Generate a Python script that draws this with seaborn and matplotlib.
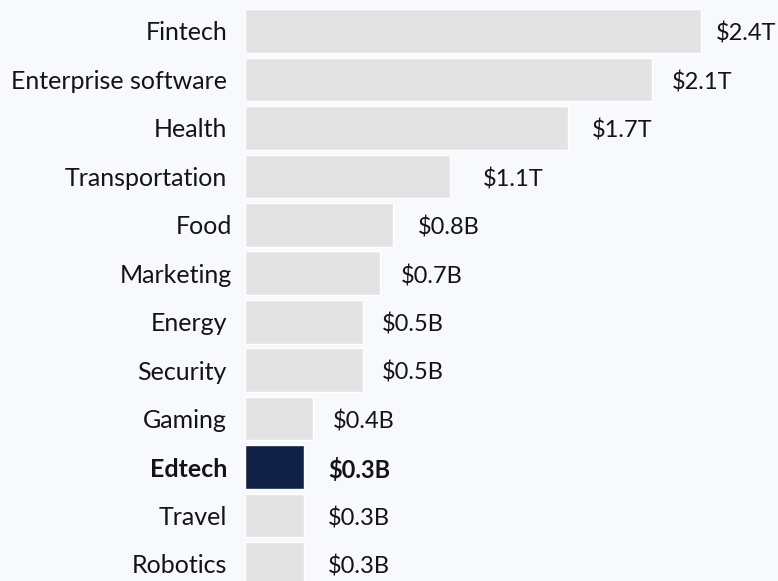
import matplotlib
matplotlib.use("Agg")
import matplotlib.pyplot as plt
import seaborn as sns
import pandas as pd

# Dades del gràfic
categories = ["Fintech", "Enterprise software", "Health", "Transportation", "Food",
              "Marketing", "Energy", "Security", "Gaming", "Edtech", "Travel", "Robotics"]
values = [2.4, 2.14, 1.70, 1.08, 0.78, 0.71, 0.62, 0.62, 0.36, 0.31, 0.31, 0.31]
value_labels = ["$2.4T", "$2.1T", "$1.7T", "$1.1T", "$0.8B", "$0.7B",
                "$0.5B", "$0.5B", "$0.4B", "$0.3B", "$0.3B", "$0.3B"]
highlight = "Edtech"

# Estil
bg = "#f8f9fd"
grey = "#e3e3e3"
navy = "#0f2146"
ink = "#141414"
value_gap_px = [15, 20, 24, 33, 25, 21, 19, 19, 19, 24, 24, 24]
name_gap_px = [18, 18, 18, 18, 13, 13, 18, 18, 18, 18, 18, 18]
fsize = 18
vsize = 17

sns.set_theme(style="white")
plt.rcParams["font.family"] = ["Lato", "DejaVu Sans"]

df = pd.DataFrame({"category": categories, "value": values})
colors = {c: (navy if c == highlight else grey) for c in categories}

fig = plt.figure(figsize=(7.78, 5.81), dpi=100, facecolor=bg)
ax = fig.add_axes([245 / 778, 0, 533 / 778, 1])
ax.set_facecolor(bg)

sns.barplot(data=df, x="value", y="category", hue="category", palette=colors,
            orient="h", width=0.9, legend=False, ax=ax, saturation=1)

ax.set_xlim(0, 533 / 190)
ax.set_ylim(550 / 48.45, -31 / 48.45)
ax.set_xlabel("")
ax.set_ylabel("")
ax.set_xticks([])
sns.despine(ax=ax, left=True, bottom=True)

ax.tick_params(axis="y", length=0, labelsize=fsize, labelcolor=ink)
for i, (tick, lbl) in enumerate(zip(ax.yaxis.get_major_ticks(), ax.get_yticklabels())):
    tick.set_pad(name_gap_px[i] * 0.72)
    lbl.set_va("center_baseline")
    if categories[i] == highlight:
        lbl.set_fontweight("bold")

# Etiquetes de valor
for i, (v, txt) in enumerate(zip(values, value_labels)):
    ax.annotate(txt, xy=(v, i), xytext=(value_gap_px[i] * 0.72, -2),
                textcoords="offset points", va="center", ha="left",
                fontsize=vsize, color=ink, parse_math=False, annotation_clip=False,
                fontweight="bold" if categories[i] == highlight else "normal")

fig.savefig("out.png", dpi=100, facecolor=bg)
